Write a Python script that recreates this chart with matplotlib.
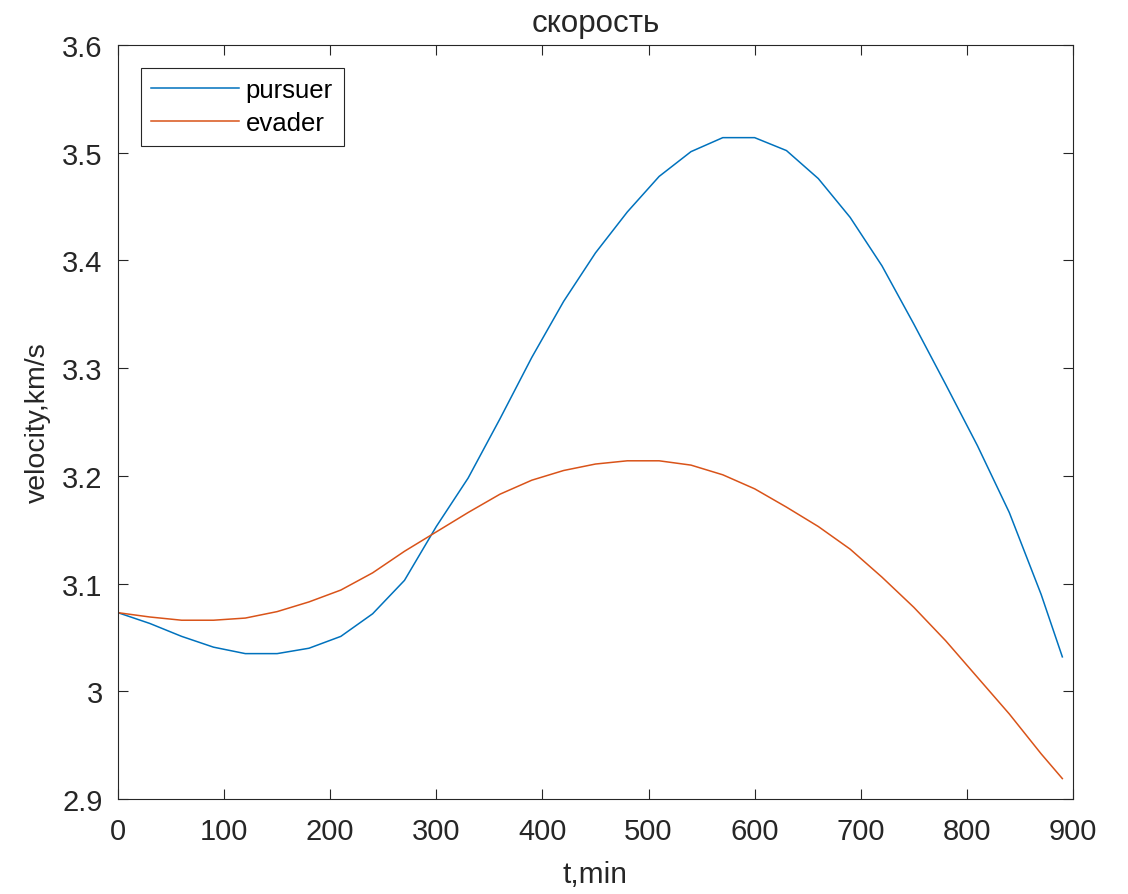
import matplotlib.pyplot as plt
from matplotlib.ticker import FormatStrFormatter

plt.rcParams['font.family'] = ['Liberation Sans', 'DejaVu Sans']

# time, min
t = [0, 30, 60, 90, 120, 150, 180, 210, 240, 270, 300, 330, 360, 390, 420,
     450, 480, 510, 540, 570, 600, 630, 660, 690, 720, 750, 780, 810, 840,
     870, 890]

# velocity, km/s
pursuer = [3.073, 3.063, 3.051, 3.041, 3.035, 3.035, 3.040, 3.051, 3.072,
           3.103, 3.153, 3.198, 3.253, 3.310, 3.362, 3.407, 3.445, 3.478,
           3.501, 3.514, 3.514, 3.502, 3.476, 3.440, 3.395, 3.341, 3.285,
           3.228, 3.166, 3.090, 3.032]
evader = [3.073, 3.069, 3.066, 3.066, 3.068, 3.074, 3.083, 3.094, 3.110,
          3.130, 3.148, 3.166, 3.183, 3.196, 3.205, 3.211, 3.214, 3.214,
          3.210, 3.201, 3.188, 3.171, 3.153, 3.132, 3.106, 3.078, 3.047,
          3.013, 2.979, 2.942, 2.919]

fig = plt.figure(figsize=(11.28, 8.95), dpi=100)
ax = fig.add_axes([0.1046, 0.1061, 0.8466, 0.8425])

ax.plot(t, pursuer, color='#0072BD', lw=1.1, label='pursuer')
ax.plot(t, evader, color='#D95319', lw=1.1, label='evader')

ax.set_xlim(0, 900)
ax.set_ylim(2.9, 3.6)
ax.set_xticks(range(0, 901, 100))
ax.set_yticks([2.9, 3.0, 3.1, 3.2, 3.3, 3.4, 3.5, 3.6])
ax.yaxis.set_major_formatter(FormatStrFormatter('%g'))
ax.tick_params(direction='in', top=True, right=True, length=7, width=0.8,
               labelsize=21, colors='#262626')
ax.tick_params(axis='x', pad=13)
ax.tick_params(axis='y', pad=11)
for s in ax.spines.values():
    s.set_color('#262626')
    s.set_linewidth(0.8)

ax.set_title('скорость', fontsize=22.5, color='#262626', pad=10)
ax.set_xlabel('t,min', fontsize=21.5, color='#262626', labelpad=11)
ax.set_ylabel('velocity,km/s', fontsize=20.5, color='#262626', labelpad=8)

leg = ax.legend(loc='upper left', fontsize=18.5, handlelength=3.4,
                fancybox=False, framealpha=1, edgecolor='#262626',
                borderaxespad=0.88, handletextpad=0.27, labelspacing=0.35,
                borderpad=0.42)
leg.get_frame().set_linewidth(0.8)

fig.savefig('out.png', dpi=100, facecolor='white')
